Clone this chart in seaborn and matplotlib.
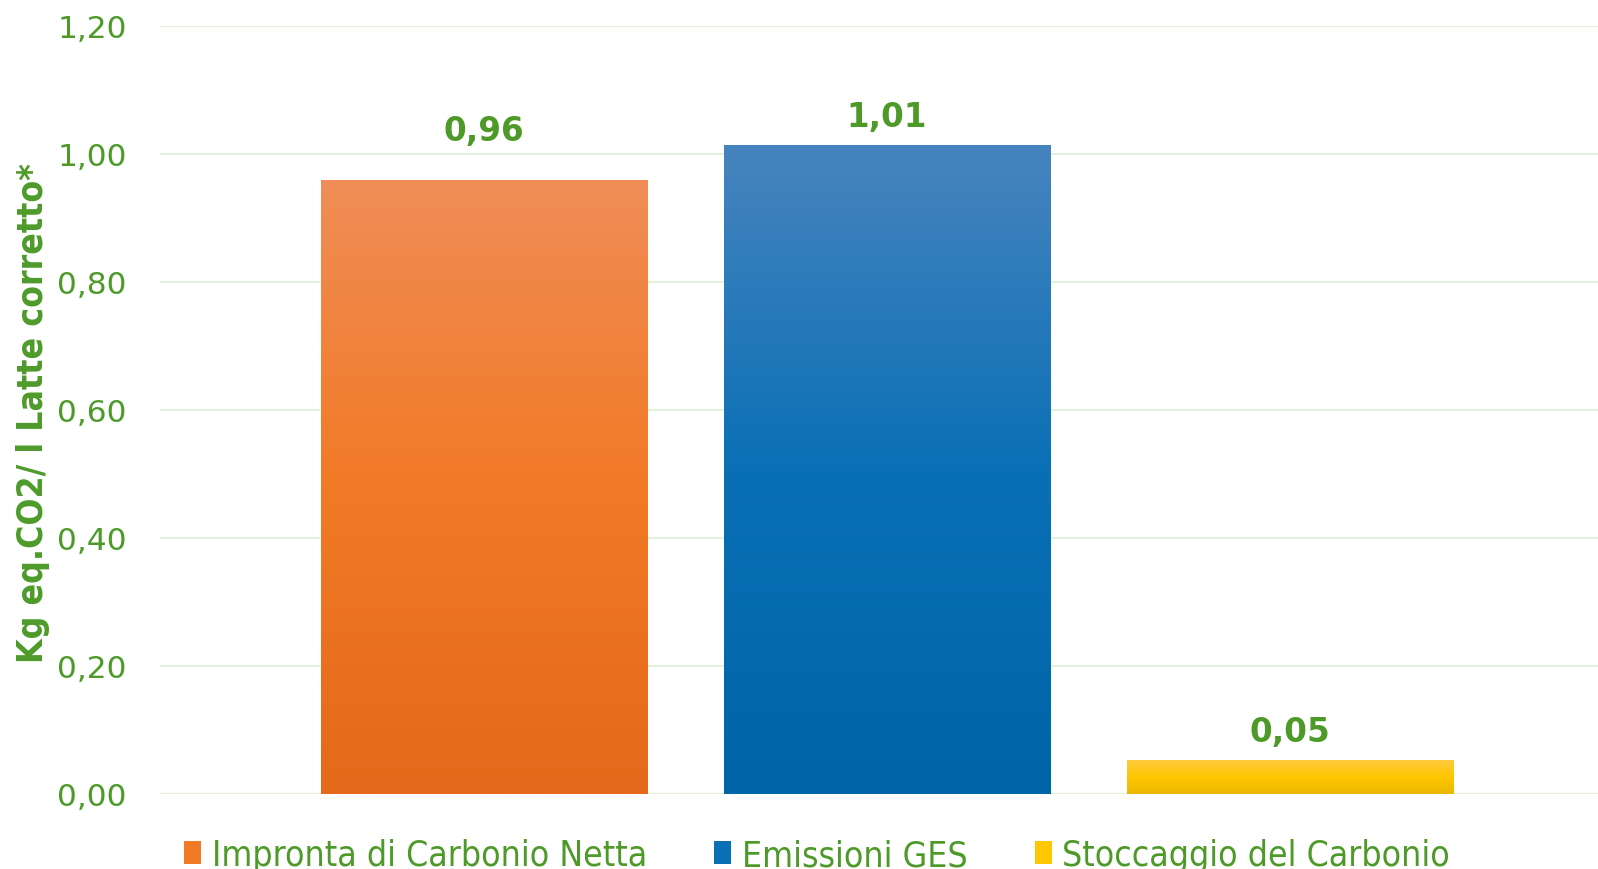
import numpy as np
import pandas as pd
import matplotlib
import matplotlib.pyplot as plt
import seaborn as sns
from matplotlib.colors import LinearSegmentedColormap
from matplotlib.patches import Rectangle
from matplotlib.ticker import FuncFormatter

matplotlib.use('Agg')

# Data
categories = ['Impronta di Carbonio Netta', 'Emissioni GES', 'Stoccaggio del Carbonio']
values = [0.959, 1.014, 0.053]
y_label = 'Kg eq.CO2/ l Latte corretto*'
y_ticks = [0.0, 0.2, 0.4, 0.6, 0.8, 1.0, 1.2]

# Style
green = '#4D9A29'
grid_green = '#E2F2D8'
gradients = [
    ['#F08D57', '#F27A26', '#E4691A'],
    ['#4784BE', '#0A70B6', '#0065A6'],
    ['#FFCA3E', '#FFC700', '#EBB700'],
]
label_offsets = [24, 8.5, 8.5]  # points above bar top

df = pd.DataFrame({'Categoria': categories, 'Valore': values})

sns.set_theme(style='white')
plt.rcParams['font.family'] = ['DejaVu Sans']

fig = plt.figure(figsize=(15.98, 8.70), dpi=100)
ax = fig.add_axes([160 / 1598, 75 / 870, 1 - 160 / 1598, (795 - 26.5) / 870])

sns.barplot(data=df, x='Categoria', y='Valore', hue='Categoria',
            palette=[g[1] for g in gradients], width=0.81, legend=False,
            saturation=1, ax=ax, zorder=3)

# Gradient fill clipped to each bar (top colour first)
for patch, cols in zip(ax.patches, gradients):
    x0, y0 = patch.get_x(), patch.get_y()
    w, h = patch.get_width(), patch.get_height()
    cmap = LinearSegmentedColormap.from_list('g', cols)
    grad = np.linspace(0, 1, 256).reshape(-1, 1)
    im = ax.imshow(grad, cmap=cmap, extent=[x0, x0 + w, y0, y0 + h],
                   aspect='auto', zorder=4, origin='upper')
    im.set_clip_path(patch)

# Value labels
for patch, v, off in zip(ax.patches, values, label_offsets):
    ax.annotate(f'{v:.2f}'.replace('.', ','),
                (patch.get_x() + patch.get_width() / 2, patch.get_height()),
                xytext=(0, off), textcoords='offset points',
                ha='center', va='bottom', fontsize=23.5, fontweight='bold',
                color=green, zorder=5)

ax.set_xlim(-0.804, 2.764)
ax.set_ylim(0, 1.2)
ax.set_yticks(y_ticks)
ax.yaxis.set_major_formatter(FuncFormatter(lambda v, p: f'{v:.2f}'.replace('.', ',')))
ax.tick_params(axis='y', labelsize=22.5, labelcolor=green, length=0, pad=24)
ax.set_xticks([])
ax.set_xlabel('')
ax.set_ylabel('')
ax.grid(axis='y', color=grid_green, linewidth=1.5, zorder=0)
ax.set_axisbelow(True)
for s in ax.spines.values():
    s.set_visible(False)

fig.text(33 / 1598, 1 - 413 / 870, y_label, rotation=90, ha='center', va='center',
         fontsize=25.5, fontweight='bold', fontstretch='condensed', color=green)

# Legend at bottom (partly cut off as in the reference)
handles = [Rectangle((0, 0), 1, 1, facecolor=g[1], edgecolor='none') for g in gradients]
leg = fig.legend(handles, categories, loc='upper left',
                 bbox_to_anchor=(170 / 1598, 1 - 825 / 870), ncol=3, frameon=False,
                 fontsize=25.5, handlelength=0.48, handleheight=0.6,
                 handletextpad=0.3, columnspacing=1.9, borderaxespad=0)
for t in leg.get_texts():
    t.set_color(green)
    t.set_fontstretch('condensed')

fig.savefig('out.png', dpi=100)
